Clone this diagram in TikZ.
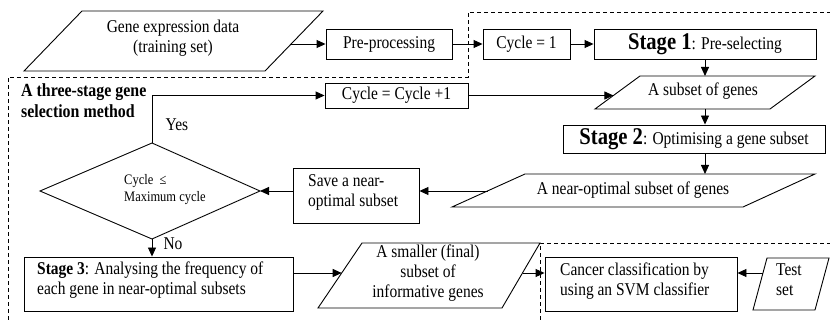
\documentclass[tikz,border=0pt]{standalone}
\usepackage{fontspec}
\setmainfont{Liberation Serif}[FakeStretch=0.86]
\usetikzlibrary{arrows.meta}

\begin{document}
\begin{tikzpicture}[x=1pt,y=-1pt,
  every node/.style={font=\fontsize{18}{20}\selectfont, inner sep=0pt},
  shape line/.style={draw=black, line width=0.9pt},
  box/.style={shape line, rectangle, anchor=center},
  arr/.style={line width=0.9pt, -{Triangle[length=9pt,width=8pt]}},
  region/.style={line width=0.9pt, dash pattern=on 4pt off 3pt}
]
\useasboundingbox (0,0) rectangle (830,320);
\fill[white] (0,0) rectangle (830,320);

% dashed outlines of the two phases
\draw[region] (8,320) -- (8,77) -- (468,77) -- (468,12) -- (830,12);
\draw[region] (540,320) -- (540,243) -- (830,243);

% input data
\draw[shape line] (82,11) -- (323,11) -- (265,71) -- (24,71) -- cycle;
\node[align=center] (gene) at (173,38) {Gene expression data\\(training set)};
\coordinate (geneE) at (290,44);

% preprocessing chain
\node[box, minimum width=126pt, minimum height=30pt] (pre) at (389,44) {Pre-processing};
\node[box, minimum width=87pt, minimum height=30pt] (cyc1) at (526.5,44) {Cycle = 1};
\node[box, minimum width=222pt, minimum height=30pt] (st1) at (705,44)
  {{\bfseries\fontsize{24}{26}\selectfont Stage 1}: Pre-selecting};

% subset of genes
\draw[shape line] (640,76) -- (815,76) -- (770,109) -- (595,109) -- cycle;
\node (subset) at (703,91) {A subset of genes};
\coordinate (subN) at (705,76);
\coordinate (subS) at (705,109);
\coordinate (subW) at (613.4,95.5);

\node[box, minimum width=262pt, minimum height=28pt] (st2) at (694,139)
  {{\bfseries\fontsize{24}{26}\selectfont Stage 2}: Optimising a gene subset};

% near-optimal subset
\draw[shape line] (525,174) -- (815,174) -- (743,207) -- (452,207) -- cycle;
\node (nearopt) at (633,190) {A near-optimal subset of genes};
\coordinate (nearN) at (705,174);
\coordinate (nearW) at (488,191);

\node[box, minimum width=126pt, minimum height=55pt] (save) at (356,195.5) {};
\node[align=left, anchor=west] (savetxt) at (308,192) {Save a near-\\optimal subset};

% loop counter
\node[box, minimum width=143pt, minimum height=25pt] (cycinc) at (396.5,95.5) {Cycle = Cycle +1};

% decision
\coordinate (dT) at (152,143);
\coordinate (dR) at (260,191);
\coordinate (dB) at (152,239);
\coordinate (dL) at (40,191);
\draw[shape line] (dT) -- (dR) -- (dB) -- (dL) -- cycle;
\node[align=left, anchor=west, font=\fontsize{14.5}{17}\selectfont] (cond) at (124,190)
  {Cycle \ ≤\\Maximum cycle};

\node[align=left, anchor=west, font=\bfseries\fontsize{18.5}{21}\selectfont] (title) at (21,101)
  {A three-stage gene\\selection method};
\node (yes) at (177,125) {Yes};
\node (no) at (173,244) {No};

% stage 3 and the final subset
\node[box, minimum width=269pt, minimum height=54pt] (st3) at (158.5,284) {};
\node[align=left, anchor=west] (st3txt) at (37,280)
  {\textbf{Stage 3}: Analysing the frequency of\\each gene in near-optimal subsets};

\draw[shape line] (362,243) -- (540,243) -- (502,308) -- (318,308) -- cycle;
\node[align=center] (smaller) at (428,273) {A smaller (final)\\subset of\\informative genes};
\coordinate (smW) at (341.7,273);
\coordinate (smE) at (522.5,273);

% classification
\node[box, minimum width=192pt, minimum height=54pt] (svm) at (641,284) {};
\node[align=left, anchor=west] (svmtxt) at (560,281)
  {Cancer classification by\\using an SVM classifier};

\draw[shape line] (767,258) -- (829,258) -- (815,310) -- (753,310) -- cycle;
\node[align=left, anchor=west] (test) at (776,280) {Test\\set};
\coordinate (testW) at (763,273);

% connectors
\draw[arr] (geneE) -- (pre.west);
\draw[arr] (pre.east) -- (cyc1.west);
\draw[arr] (cyc1.east) -- (st1.west);
\draw[arr] (st1.south -| subN) -- (subN);
\draw[arr] (subS) -- (subS |- st2.north);
\draw[arr] (st2.south -| nearN) -- (nearN);
\draw[arr] (nearW) -- (nearW -| save.east);
\draw[arr] (save.west |- dR) -- (dR);
\draw[arr] (dT) |- (cycinc.west);
\draw[arr] (cycinc.east) -- (subW);
\draw[arr] (dB) -- (dB |- st3.north);
\draw[arr] (st3.east |- smW) -- (smW);
\draw[arr] (smE) -- (smE -| svm.west);
\draw[arr] (testW) -- (testW -| svm.east);
\end{tikzpicture}
\end{document}
